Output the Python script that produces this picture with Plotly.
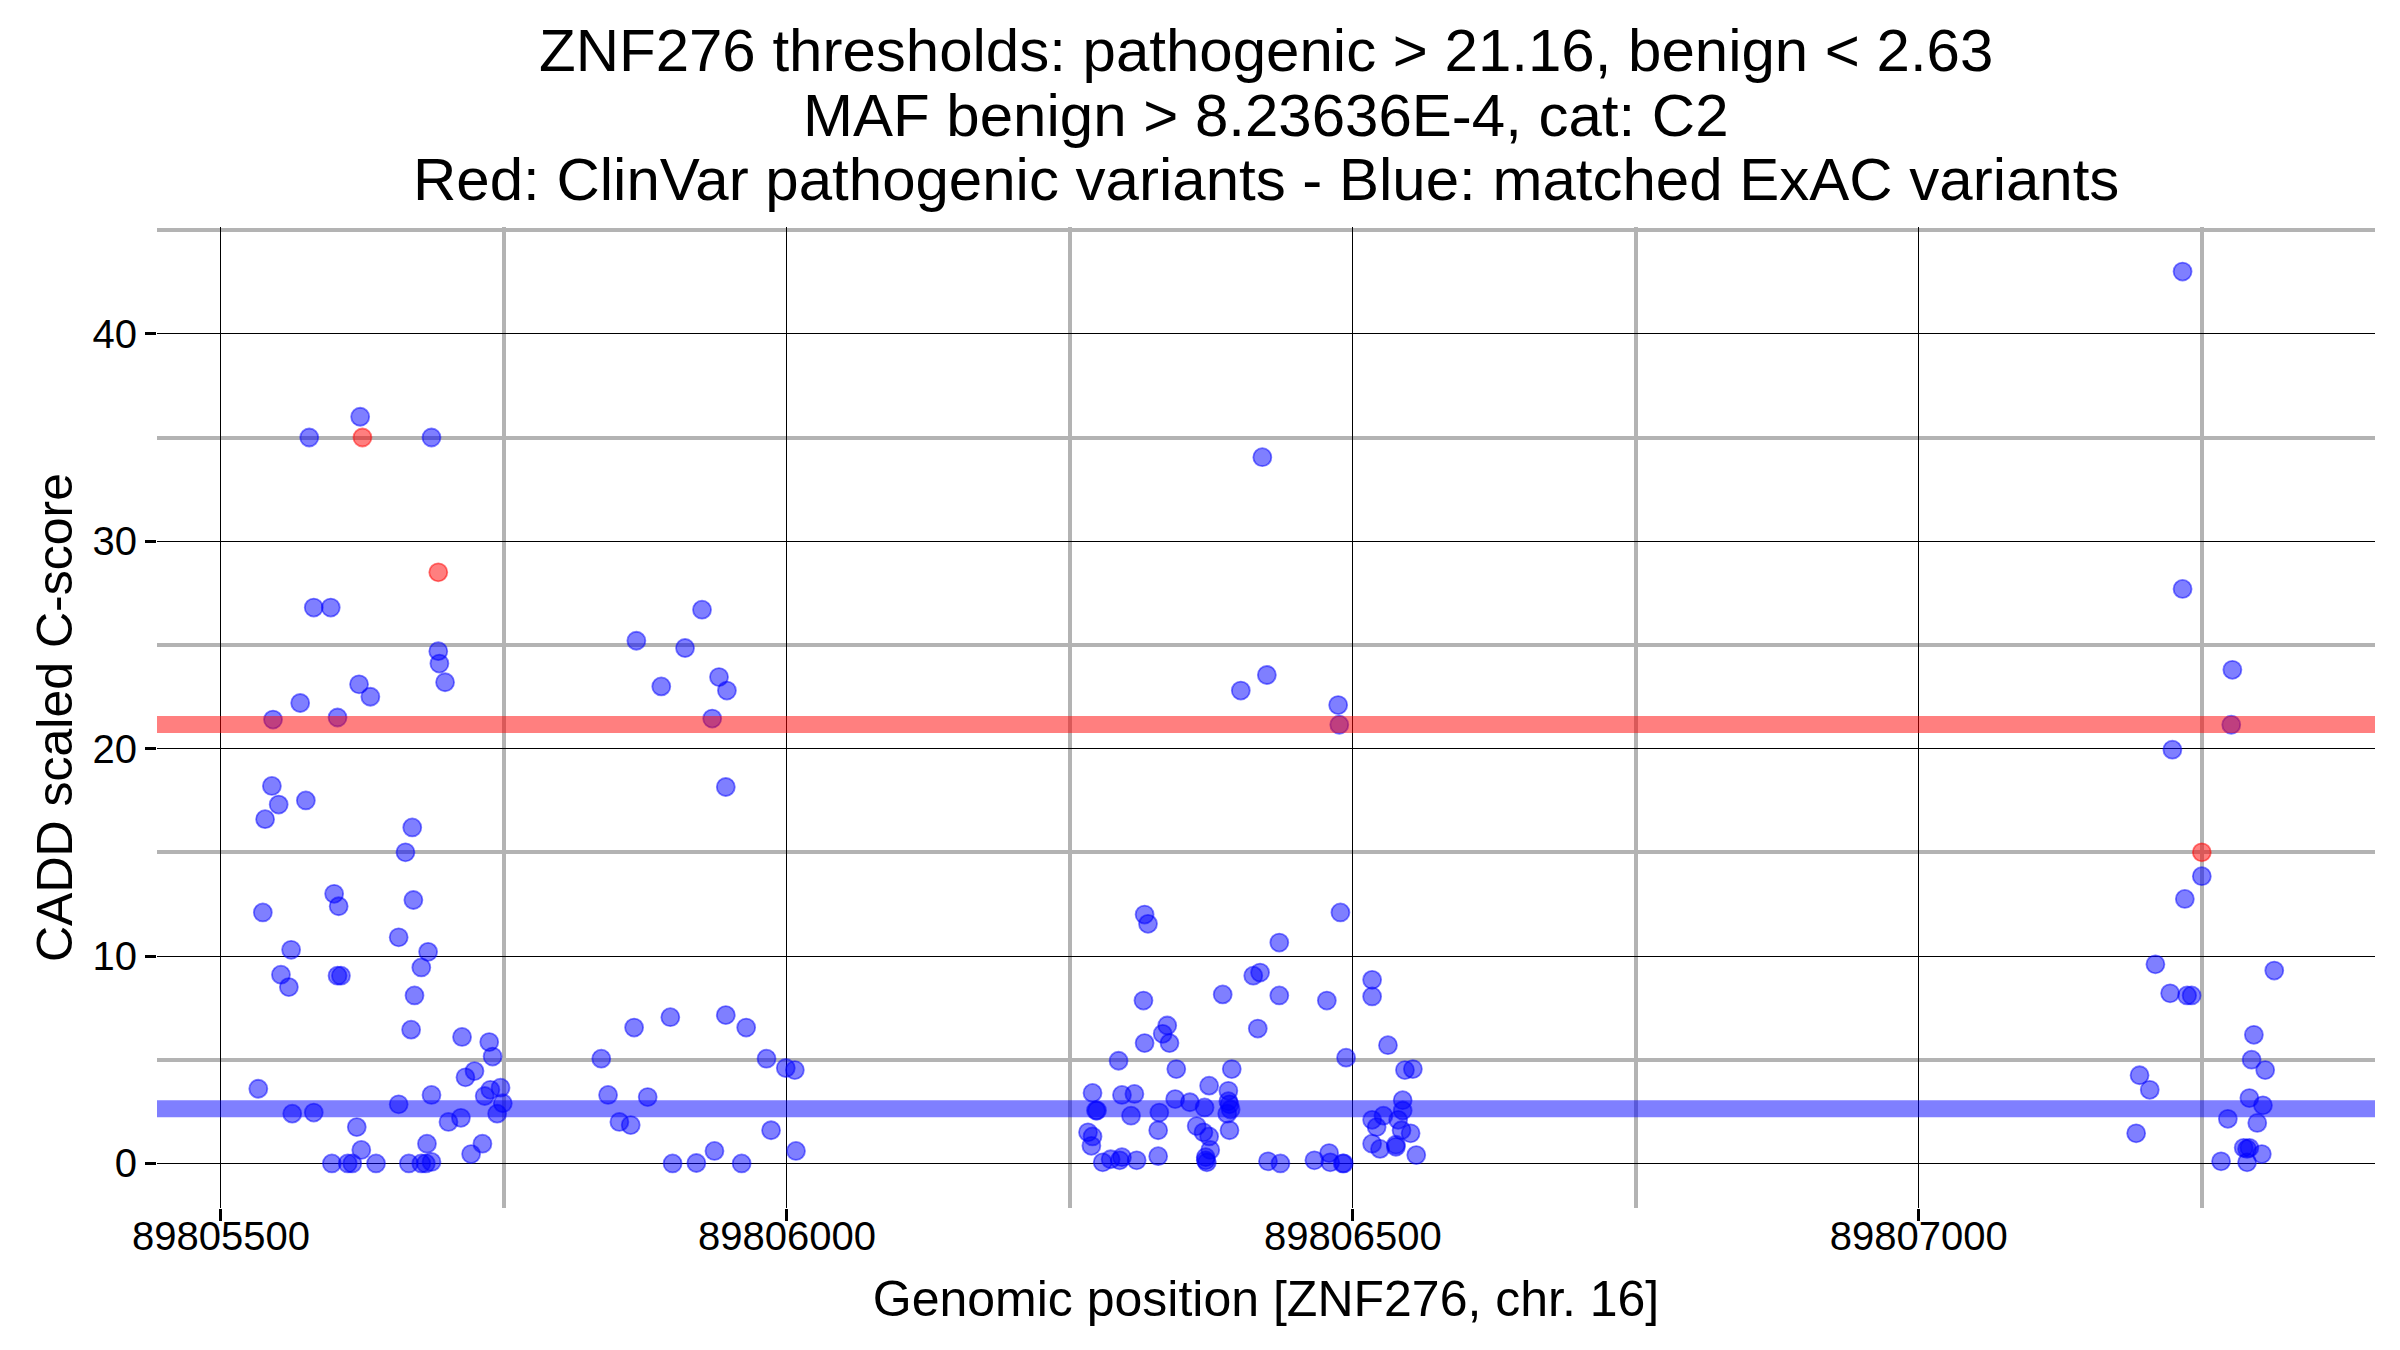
import plotly.graph_objects as go

# ---- data ----
blue_pos = [
    89805623, 89805578, 89805686, 89805582, 89805597, 89805692, 89805693, 89805698,
    89805622, 89805632, 89805570, 89805546, 89805603, 89805545, 89805551, 89805575,
    89805539, 89805669, 89805663, 89805600, 89805604, 89805537, 89805670, 89805657,
    89805562, 89805683, 89805553, 89805603, 89805606, 89805560, 89805677, 89805671,
    89805668, 89805713, 89805737, 89805740, 89805724, 89805716, 89805533, 89805738,
    89805747, 89805733, 89805749, 89805744, 89805686, 89805657, 89805563, 89805582,
    89805620, 89805701, 89805712, 89805682, 89805731, 89805624, 89805721, 89805598,
    89805612, 89805616, 89805637, 89805666, 89805677, 89805681, 89805686,
    89805925, 89805867, 89805910, 89805889, 89805940, 89805947, 89805934, 89805946,
    89805865, 89805897, 89805946, 89805964, 89805836, 89805982, 89805999, 89806007,
    89805842, 89805877, 89805852, 89805862, 89805986, 89806008, 89805936, 89805899,
    89805920, 89805960,
    89806420, 89806424, 89806401, 89806487, 89806488, 89806489, 89806316, 89806319,
    89806435, 89806412, 89806418, 89806385, 89806435, 89806477, 89806315, 89806517,
    89806517, 89806336, 89806332, 89806338, 89806316, 89806416, 89806531, 89806293,
    89806494, 89806344, 89806393, 89806546, 89806553, 89806373, 89806390, 89806270,
    89806296, 89806307, 89806343, 89806356, 89806369, 89806390, 89806391, 89806392,
    89806389, 89806273, 89806274, 89806304, 89806329, 89806544, 89806544, 89806527,
    89806517, 89806540, 89806521, 89806543, 89806551, 89806266, 89806270, 89806269,
    89806328, 89806362, 89806368, 89806373, 89806374, 89806391, 89806517, 89806524,
    89806538, 89806538, 89806556, 89806328, 89806279, 89806286, 89806296, 89806294,
    89806309, 89806370, 89806371, 89806370, 89806425, 89806436, 89806466, 89806479,
    89806480, 89806491, 89806492,
    89807233, 89807233, 89807277, 89807276, 89807250, 89807235, 89807224, 89807209,
    89807314, 89807222, 89807237, 89807241, 89807296, 89807294, 89807306, 89807195,
    89807204, 89807292, 89807304, 89807273, 89807299, 89807192, 89807287, 89807290,
    89807292, 89807303, 89807267, 89807290,
]
blue_score = [
    36.0, 35.0, 35.0, 26.8, 26.8, 24.7, 24.1, 23.2,
    23.1, 22.5, 22.2, 21.4, 21.5, 18.2, 17.3, 17.5,
    16.6, 16.2, 15.0, 13.0, 12.4, 12.1, 12.7, 10.9,
    10.3, 10.2, 9.1, 9.05, 9.05, 8.5, 9.45, 8.1,
    6.45, 6.1, 5.85, 5.15, 4.45, 4.15, 3.6, 3.55,
    3.65, 3.25, 2.9, 2.4, 3.3, 2.85, 2.4, 2.45,
    1.75, 2.0, 2.2, 0.95, 0.95, 0.65, 0.45, 0.0,
    0.0, 0.0, 0.0, 0.0, 0.0, 0.0, 0.07,
    26.7, 25.2, 24.85, 23.0, 23.45, 22.8, 21.45, 18.15,
    6.55, 7.05, 7.15, 6.55, 5.05, 5.05, 4.6, 4.5,
    3.3, 3.2, 2.0, 1.85, 1.6, 0.6, 0.6, 0.0,
    0.02, 0.0,
    34.05, 23.55, 22.8, 22.1, 21.15, 12.1, 12.0, 11.55,
    10.65, 9.05, 9.2, 8.15, 8.1, 7.85, 7.85, 8.85,
    8.05, 6.65, 6.25, 5.8, 5.8, 6.5, 5.7, 4.95,
    5.1, 4.55, 4.55, 4.5, 4.55, 3.75, 3.5, 3.4,
    3.3, 3.35, 3.1, 2.95, 2.7, 3.0, 2.85, 2.6,
    2.4, 2.55, 2.55, 2.3, 2.45, 3.05, 2.55, 2.3,
    2.1, 2.1, 1.75, 1.6, 1.45, 1.5, 1.3, 0.85,
    1.6, 1.8, 1.5, 1.3, 0.65, 1.6, 0.95, 0.7,
    0.9, 0.8, 0.4, 0.35, 0.05, 0.2, 0.3, 0.15,
    0.15, 0.3, 0.05, 0.15, 0.1, 0.0, 0.15, 0.5,
    0.05, 0.0, 0.0,
    43.0, 27.7, 23.8, 21.15, 13.85, 12.75, 19.95, 9.6,
    9.3, 8.2, 8.1, 8.1, 6.2, 5.0, 4.5, 4.25,
    3.55, 3.15, 2.8, 2.15, 1.95, 1.45, 0.75, 0.7,
    0.75, 0.45, 0.1, 0.05,
]
red_pos = [89805625, 89805692, 89807250]
red_score = [35.0, 28.5, 15.0]

pathogenic_threshold = 21.16
benign_threshold = 2.63

title_lines = [
    "ZNF276 thresholds: pathogenic > 21.16, benign < 2.63",
    "MAF benign > 8.23636E-4, cat: C2",
    "Red: ClinVar pathogenic variants - Blue: matched ExAC variants",
]
x_title = "Genomic position [ZNF276, chr. 16]"
y_title = "CADD scaled C-score"

FONT = "Liberation Sans, Arial, Helvetica, sans-serif"

fig = go.Figure()
fig.add_trace(go.Scatter(
    x=blue_pos, y=blue_score, mode="markers",
    marker=dict(size=18, color="rgba(0,0,255,0.5)",
                line=dict(color="rgba(0,0,255,0.5)", width=1.8)),
    showlegend=False, hoverinfo="x+y",
))
fig.add_trace(go.Scatter(
    x=red_pos, y=red_score, mode="markers",
    marker=dict(size=18, color="rgba(255,0,0,0.5)",
                line=dict(color="rgba(255,0,0,0.5)", width=1.8)),
    showlegend=False, hoverinfo="x+y",
))

for yv, col in [(pathogenic_threshold, "rgba(255,0,0,0.5)"),
                (benign_threshold, "rgba(0,0,255,0.5)")]:
    fig.add_shape(type="line", xref="paper", x0=0, x1=1, yref="y", y0=yv, y1=yv,
                  line=dict(color=col, width=17), layer="above")

# title lines
title_y = [1.180, 1.1137, 1.0485]
for txt, yy in zip(title_lines, title_y):
    fig.add_annotation(text=txt, xref="paper", yref="paper", x=0.5, y=yy,
                       xanchor="center", yanchor="middle", showarrow=False,
                       font=dict(family=FONT, size=60, color="black"))

fig.update_layout(
    width=2400, height=1350,
    margin=dict(l=149, r=33, t=219, b=150, autoexpand=False),
    paper_bgcolor="white", plot_bgcolor="white",
    font=dict(family=FONT, color="black"),
    showlegend=False,
)
fig.update_xaxes(
    range=[89805443.5, 89807403], tick0=89805500, dtick=500, tickformat="d",
    showgrid=True, gridcolor="black", gridwidth=1.2,
    minor=dict(dtick=250, tick0=89805500, showgrid=True, gridcolor="#b3b3b3", gridwidth=3.5),
    zeroline=False, showline=False,
    ticks="outside", ticklen=12, tickwidth=3, tickcolor="black",
    ticklabelstandoff=-19,
    tickfont=dict(family=FONT, size=40, color="black"),
    title=dict(text=x_title, font=dict(family=FONT, size=50, color="black"), standoff=23),
    automargin=False,
)
fig.update_yaxes(
    range=[-2.15, 45.15], tick0=0, dtick=10,
    showgrid=True, gridcolor="black", gridwidth=1.2,
    minor=dict(dtick=5, tick0=0, showgrid=True, gridcolor="#b3b3b3", gridwidth=3.5),
    zeroline=False, showline=False,
    ticks="outside", ticklen=11, tickwidth=3, tickcolor="black",
    tickfont=dict(family=FONT, size=40, color="black"),
    title=dict(text=y_title, font=dict(family=FONT, size=50, color="black"), standoff=4),
    automargin=False,
)

fig.write_html("out.html")
